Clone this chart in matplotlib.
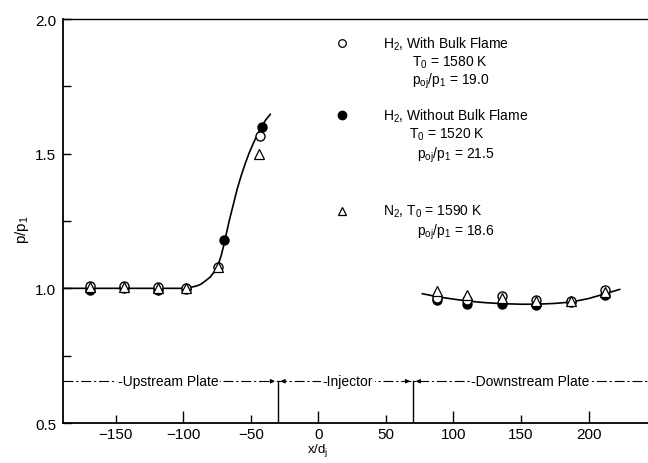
import numpy as np
import matplotlib.pyplot as plt

plt.rcParams['font.family'] = ['Liberation Sans', 'DejaVu Sans']
plt.rcParams['mathtext.fontset'] = 'custom'
plt.rcParams['mathtext.rm'] = 'Liberation Sans'
plt.rcParams['mathtext.it'] = 'Liberation Sans'

# H2 with bulk flame (open circles)
x_open = [-169, -144, -119, -98, -74, -43, 88, 110, 136, 161, 187, 212]
y_open = [1.01, 1.01, 1.005, 1.0, 1.078, 1.565, 0.965, 0.955, 0.972, 0.956, 0.953, 0.993]

# H2 without bulk flame (filled circles)
x_fill = [-169, -144, -119, -98, -70, -42, 88, 110, 136, 161, 187, 212]
y_fill = [0.995, 1.0, 0.995, 0.998, 1.18, 1.60, 0.957, 0.943, 0.941, 0.938, 0.95, 0.974]

# N2 (open triangles)
x_tri = [-169, -144, -119, -98, -74, -44, 88, 110, 136, 161, 187, 212]
y_tri = [1.005, 1.005, 1.0, 1.0, 1.08, 1.50, 0.99, 0.975, 0.965, 0.952, 0.952, 0.985]

# faired curves
x_up = [-189, -100, -95, -90, -87, -84, -80, -77, -74, -72, -70, -68, -66, -63, -60,
        -57, -54, -51, -48, -45, -42, -39, -35.6]
y_up = [1.0, 1.0, 1.003, 1.009, 1.015, 1.026, 1.042, 1.062, 1.09, 1.12, 1.16, 1.205,
        1.25, 1.31, 1.37, 1.42, 1.465, 1.505, 1.54, 1.572, 1.60, 1.625, 1.646]
x_down = [77, 89, 100, 110, 123, 136, 150, 161, 175, 187, 200, 211, 223]
y_down = [0.980, 0.968, 0.960, 0.953, 0.947, 0.943, 0.941, 0.941, 0.944, 0.949, 0.962, 0.978, 0.996]

# injector region
inj_left, inj_right = -30, 70
plate_y = 0.655

fig = plt.figure(figsize=(6.48, 4.64), dpi=100)
ax = fig.add_axes([63 / 648, 1 - 424 / 464, 585 / 648, 404 / 464])

ax.plot(x_up, y_up, color='black', lw=1.2, zorder=2)
ax.plot(x_down, y_down, color='black', lw=1.2, zorder=2)

ax.plot(x_fill, y_fill, 'o', ms=6.5, mfc='black', mec='black', mew=1.0, zorder=3)
ax.plot(x_open, y_open, 'o', ms=6.5, mfc='white', mec='black', mew=1.0, zorder=4)
ax.plot(x_tri, y_tri, '^', ms=6.5, mfc='white', mec='black', mew=0.9, zorder=5)

# plate / injector line
ax.axhline(plate_y, color='black', lw=0.8, ls=(0, (9, 2.5, 2, 2.5)), zorder=1)
for xv in (inj_left, inj_right):
    ax.plot([xv, xv], [0.5, plate_y], color='black', lw=1.0, zorder=1)
    ax.annotate('', xy=(xv, plate_y), xytext=(xv - 8, plate_y),
                arrowprops=dict(arrowstyle='-|>', lw=0.8, color='black', mutation_scale=6))
    ax.annotate('', xy=(xv, plate_y), xytext=(xv + 8, plate_y),
                arrowprops=dict(arrowstyle='-|>', lw=0.8, color='black', mutation_scale=6))

box = dict(facecolor='white', edgecolor='none', pad=1)
pfs = 10
ax.text(-111, plate_y, '-Upstream Plate', ha='center', va='center', fontsize=pfs, bbox=box)
ax.text(22, plate_y, '-Injector', ha='center', va='center', fontsize=pfs, bbox=box)
ax.text(157, plate_y, '-Downstream Plate', ha='center', va='center', fontsize=pfs, bbox=box)

# legend block
tr = ax.transAxes
ax.plot([0.477], [0.941], 'o', ms=5.5, mfc='white', mec='black', mew=0.9, transform=tr, clip_on=False)
ax.plot([0.477], [0.762], 'o', ms=6, mfc='black', mec='black', transform=tr, clip_on=False)
ax.plot([0.477], [0.525], '^', ms=6, mfc='white', mec='black', mew=0.9, transform=tr, clip_on=False)
fs = 10
ax.text(0.547, 0.941, r'H$_2$, With Bulk Flame', transform=tr, va='center', fontsize=fs)
ax.text(0.597, 0.894, r'T$_0$ = 1580 K', transform=tr, va='center', fontsize=fs)
ax.text(0.597, 0.847, r'p$_{oj}$/p$_1$ = 19.0', transform=tr, va='center', fontsize=fs)
ax.text(0.547, 0.762, r'H$_2$, Without Bulk Flame', transform=tr, va='center', fontsize=fs)
ax.text(0.592, 0.715, r'T$_0$ = 1520 K', transform=tr, va='center', fontsize=fs)
ax.text(0.605, 0.666, r'p$_{oj}$/p$_1$ = 21.5', transform=tr, va='center', fontsize=fs)
ax.text(0.547, 0.525, r'N$_2$, T$_0$ = 1590 K', transform=tr, va='center', fontsize=fs)
ax.text(0.605, 0.475, r'p$_{oj}$/p$_1$ = 18.6', transform=tr, va='center', fontsize=fs)

ax.set_xlim(-189, 244)
ax.set_ylim(0.5, 2.0)

ax.set_xticks([-100, 0, 100, 200], labels=['\u2212100', '0', '100', '200'])
ax.set_xticks([-150, -50, 50, 150], labels=['\u2212150', '\u221250', '50', '150'], minor=True)
ax.set_yticks([0.5, 1.0, 1.5, 2.0], labels=['0.5', '1.0', '1.5', '2.0'])
ax.set_yticks([0.75, 1.25, 1.75], minor=True)
ax.tick_params(axis='x', which='major', direction='in', length=9, width=1, labelsize=11, pad=3)
ax.tick_params(axis='x', which='minor', direction='in', length=6, width=1, labelsize=11, pad=3)
ax.tick_params(axis='y', which='both', direction='in', length=6, width=1, labelsize=11, pad=5)

ax.spines['right'].set_visible(False)
for s in ('left', 'bottom'):
    ax.spines[s].set_linewidth(1.3)
ax.spines['top'].set_linewidth(1.0)

fig.text(318 / 648, 1 - 451 / 464, r'x/d$_j$', ha='center', va='center', fontsize=9.5)
fig.text(22 / 648, 1 - 230 / 464, r'p/p$_1$', ha='center', va='center', fontsize=11, rotation=90)

fig.savefig('out.png', dpi=100)
